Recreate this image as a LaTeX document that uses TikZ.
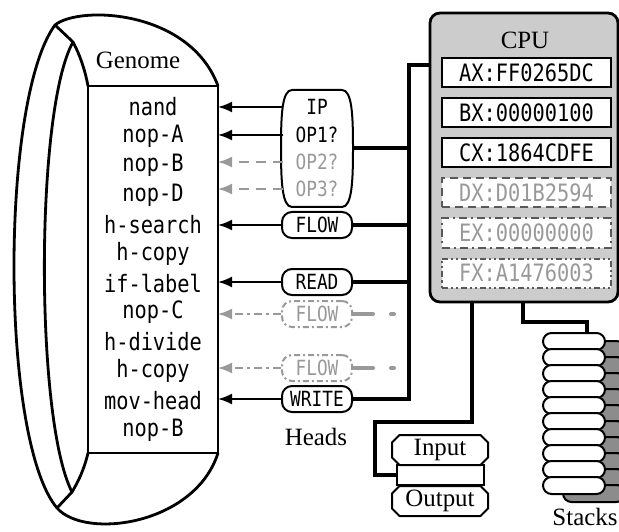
\documentclass[tikz,border=0pt]{standalone}
\usepackage{fontspec}
\setmainfont{Liberation Serif}
\newfontfamily\codefont[FakeStretch=0.85]{DejaVu Sans Mono}
\usetikzlibrary{calc,arrows.meta,shapes.misc}

\definecolor{cpugray}{gray}{0.8}
\definecolor{ghost}{gray}{0.6}
\definecolor{ghostline}{gray}{0.35}
\definecolor{stackgray}{gray}{0.55}

\tikzset{
  outline/.style={line width=2.8bp, line join=round},
  gene/.style={font=\codefont\fontsize{24}{24}\selectfont, inner sep=0pt},
  headbox/.style={draw, line width=2bp, rounded corners=10bp, minimum width=70bp,
    minimum height=26bp, inner sep=0pt, font=\codefont\fontsize{21}{21}\selectfont},
  ghostbox/.style={headbox, draw=ghost, text=ghost, dash pattern=on 6bp off 3bp on 2bp off 3bp},
  iptext/.style={font=\codefont\fontsize{21}{21}\selectfont, inner sep=0pt},
  regbox/.style={draw, fill=white, line width=2bp, minimum width=169bp, minimum height=29bp,
    inner sep=0pt, font=\codefont\fontsize{24}{24}\selectfont},
  ghostreg/.style={regbox, draw=ghostline, text=ghost},
  readarrow/.style={line width=2bp, -{Latex[length=14bp,width=11bp]}},
  ghostarrow/.style={readarrow, draw=ghost, dash pattern=on 8bp off 4bp on 3bp off 4bp},
  dasharrow/.style={readarrow, draw=ghost, dash pattern=on 10bp off 7bp},
  bus/.style={line width=4bp},
  ghostbus/.style={line width=4bp, draw=ghost, line cap=round,
    dash pattern=on 20bp off 18bp on 3bp off 30bp},
  iobox/.style={draw, chamfered rectangle, chamfered rectangle xsep=4.5bp, line width=2bp,
    fill=white, minimum width=96bp, minimum height=30bp, inner sep=0pt,
    font=\fontsize{25}{25}\selectfont},
  pill/.style={draw, line width=2bp, rounded corners=8.5bp, minimum width=62bp,
    minimum height=17bp, inner sep=0pt},
  title/.style={font=\fontsize{25}{25}\selectfont, inner sep=0pt}
}

\begin{document}
\begin{tikzpicture}[x=1bp, y=-1bp]
\useasboundingbox (0,0) rectangle (619,532);

% Genome tape
\node[draw, line width=2.8bp, outer sep=0pt, minimum width=130bp, minimum height=367bp] (genome) at (153,269.5) {};
\coordinate (apex) at (55,25);
\coordinate (foot) at (57,508);
\coordinate (upper) at (73,42);
\coordinate (lower) at (72,492);
\draw[outline] (genome.north east) .. controls (190,10) and (80,5) .. (apex)
  .. controls (0,100) and (0,440) .. (foot)
  .. controls (85,540) and (195,525) .. (genome.south east);
\draw[outline] (apex) -- (upper) .. controls (35,110) and (35,420) .. (lower) -- (foot);
\draw[outline] (upper) .. controls (80,55) and (85,70) .. (genome.north west);
\draw[outline] (genome.south west) .. controls (84,470) and (78,482) .. (lower);
\node[title] (genomelabel) at (138,60) {Genome};

% Instructions
\foreach \op [count=\i] in {nand,nop-A,nop-B,nop-D,h-search,h-copy,if-label,nop-C,h-divide,h-copy,mov-head,nop-B}
  \node[gene] (g\i) at (153,{107+29.36*(\i-1)}) {\op};

% CPU and registers
\node[draw, line width=2.8bp, rounded corners=10bp, fill=cpugray, outer sep=0pt,
  minimum width=188bp, minimum height=289bp] (cpu) at (524,157.5) {};
\node[title] (cpulabel) at (525,40) {CPU};
\node[regbox] (ax) at (526.5,73) {AX:FF0265DC};
\node[regbox] (bx) at (526.5,113) {BX:00000100};
\node[regbox] (cx) at (526.5,153) {CX:1864CDFE};
\node[ghostreg, dash pattern=on 8bp off 5bp] (dx) at (526.5,193) {DX:D01B2594};
\node[ghostreg, dash pattern=on 8bp off 4bp on 2bp off 4bp] (ex) at (526.5,233) {EX:00000000};
\node[ghostreg, dash pattern=on 6bp off 3bp on 2bp off 3bp on 2bp off 3bp] (fx) at (526.5,273) {FX:A1476003};

% Heads
\draw[line width=2bp] (292,90) -- (342,90) .. controls (352,90) and (353,115) .. (353,148)
  .. controls (353,181) and (352,207) .. (342,207) -- (292,207)
  .. controls (282,207) and (281,181) .. (281,148) .. controls (281,115) and (282,90) .. (292,90) -- cycle;
\coordinate (ipwest) at (283,148);
\coordinate (ipeast) at (353,148);
\node[iptext] (ip1) at (317,107) {IP};
\node[iptext] (ip2) at (317,135) {OP1?};
\node[iptext, text=ghost] (ip3) at (317,162) {OP2?};
\node[iptext, text=ghost] (ip4) at (317,189) {OP3?};
\node[headbox] (flow) at (317,225) {FLOW};
\node[headbox] (read) at (317,282) {READ};
\node[ghostbox] (ghostA) at (317,314) {FLOW};
\node[ghostbox] (ghostB) at (317,368) {FLOW};
\node[headbox] (write) at (317,399) {WRITE};
\node[title] (headslabel) at (316,437) {Heads};

% Head arrows into the genome
\draw[readarrow] (ipwest |- ip1) -- (genome.east |- ip1);
\draw[readarrow] (ipwest |- ip2) -- (genome.east |- ip2);
\draw[dasharrow] (ipwest |- ip3) -- (genome.east |- ip3);
\draw[dasharrow] (ipwest |- ip4) -- (genome.east |- ip4);
\draw[readarrow] (flow.west) -- (genome.east |- flow);
\draw[readarrow] (read.west) -- (genome.east |- read);
\draw[ghostarrow] (ghostA.west) -- (genome.east |- ghostA);
\draw[ghostarrow] (ghostB.west) -- (genome.east |- ghostB);
\draw[readarrow] (write.west) -- (genome.east |- write);

% Bus from the CPU to the heads
\coordinate (bustop) at (409,65);
\draw[bus] (cpu.west |- bustop) -- (bustop) -- (bustop |- write) -- (write.east);
\draw[bus] (ipeast) -- (ipeast -| bustop);
\draw[bus] (flow.east) -- (flow -| bustop);
\draw[bus] (read.east) -- (read -| bustop);
\draw[ghostbus] (ghostA.east) -- ++(45,0);
\draw[ghostbus] (ghostB.east) -- ++(45,0);

% Input and output
\node[draw, line width=2bp, minimum width=87bp, minimum height=20bp, inner sep=0pt] (iobar) at (440.5,475) {};
\node[iobox] (input) at (440,450) {Input};
\node[iobox] (output) at (440,501) {Output};
\draw[bus] (cpu.south -| 472,0) -- (472,422) -- (375,422) |- (iobar.west);

% Stacks
\foreach \k in {0,...,9}
  \node[pill, fill=stackgray] (t\k) at (594,{349.5+16*\k}) {};
\foreach \k in {0,...,9}
  \node[pill, fill=white] (s\k) at (574,{341.5+16*\k}) {};
\draw[bus] (cpu.south -| 523,0) -- (523,322) -- (587,322) -- (s0.north -| 587,0);
\node[title] (stackslabel) at (585,517) {Stacks};

\end{tikzpicture}
\end{document}
